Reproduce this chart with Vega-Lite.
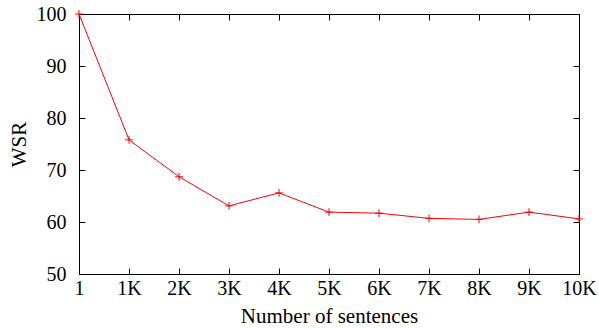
{
  "$schema": "https://vega.github.io/schema/vega-lite/v6.json",
  "width": 500,
  "height": 260,
  "autosize": {"type": "none"},
  "padding": {"left": 79, "top": 14, "right": 20, "bottom": 55},
  "config": {
    "view": {"stroke": "black", "strokeWidth": 1},
    "font": "Liberation Serif",
    "axis": {
      "labelFont": "Liberation Serif",
      "titleFont": "Liberation Serif",
      "labelFontSize": 20,
      "titleFontSize": 21,
      "titleFontWeight": "normal",
      "labelColor": "black",
      "titleColor": "black",
      "tickColor": "black",
      "domain": false,
      "grid": false,
      "tickSize": -6,
      "tickWidth": 1
    }
  },
  "data": {
    "values": [
      {"n": 0, "wsr": 100},
      {"n": 1, "wsr": 75.8},
      {"n": 2, "wsr": 68.7},
      {"n": 3, "wsr": 63.1},
      {"n": 4, "wsr": 65.6},
      {"n": 5, "wsr": 61.9},
      {"n": 6, "wsr": 61.7},
      {"n": 7, "wsr": 60.7},
      {"n": 8, "wsr": 60.5},
      {"n": 9, "wsr": 61.9},
      {"n": 10, "wsr": 60.6}
    ]
  },
  "resolve": {"axis": {"x": "independent", "y": "independent"}},
  "layer": [
    {
      "mark": {"type": "line", "color": "#ff0000", "strokeWidth": 1, "clip": false},
      "encoding": {
        "x": {
          "field": "n", "type": "quantitative",
          "scale": {"domain": [0, 10], "nice": false, "zero": false},
          "axis": {
            "orient": "bottom",
            "values": [0, 1, 2, 3, 4, 5, 6, 7, 8, 9, 10],
            "labelExpr": "datum.value == 0 ? '1' : datum.value + 'K'",
            "labelPadding": 10,
            "title": "Number of sentences",
            "titlePadding": 7,
            "labelFlush": false
          }
        },
        "y": {
          "field": "wsr", "type": "quantitative",
          "scale": {"domain": [50, 100], "nice": false, "zero": false},
          "axis": {
            "orient": "left",
            "values": [50, 60, 70, 80, 90, 100],
            "labelPadding": 19,
            "title": "WSR",
            "titlePadding": 7,
            "labelFlush": false
          }
        }
      }
    },
    {
      "mark": {
        "type": "point",
        "shape": "M-1,0L1,0M0,-1L0,1",
        "filled": false,
        "color": "#ff0000",
        "strokeWidth": 1,
        "size": 60,
        "opacity": 1,
        "clip": false
      },
      "encoding": {
        "x": {
          "field": "n", "type": "quantitative",
          "axis": {
            "orient": "top",
            "values": [0, 1, 2, 3, 4, 5, 6, 7, 8, 9, 10],
            "labels": false,
            "title": null
          }
        },
        "y": {
          "field": "wsr", "type": "quantitative",
          "axis": {
            "orient": "right",
            "values": [50, 60, 70, 80, 90, 100],
            "labels": false,
            "title": null
          }
        }
      }
    }
  ]
}
